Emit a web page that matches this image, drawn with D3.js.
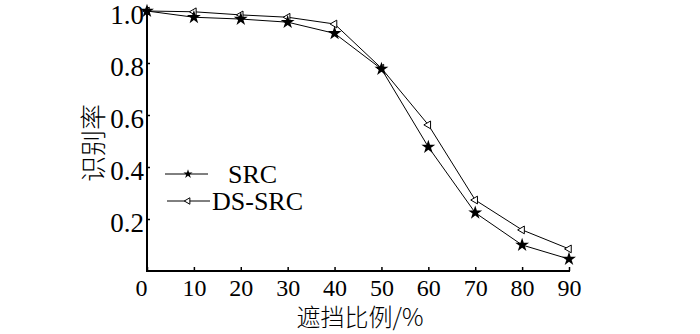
<!DOCTYPE html>
<html>
<head>
<meta charset="utf-8">
<script src="https://cdn.jsdelivr.net/npm/d3@7/dist/d3.min.js"></script>
<style>
  body { margin: 0; background: #fff; }
  svg { display: block; }
</style>
</head>
<body>
<div id="chart"></div>
<script>
// occlusion ratio (%)
const ratios = [0, 10, 20, 30, 40, 50, 60, 70, 80, 90]
const srcRate = [1.0, 0.976, 0.969, 0.957, 0.914, 0.777, 0.477, 0.224, 0.10, 0.046]
const dsSrcRate = [1.0, 0.997, 0.985, 0.976, 0.95, 0.78, 0.562, 0.273, 0.158, 0.085]
const seriesNames = ['SRC', 'DS-SRC']
const yTicks = [0.2, 0.4, 0.6, 0.8, 1.0]
const xTicks = [0, 10, 20, 30, 40, 50, 60, 70, 80, 90]
const xTitle = '遮挡比例/%'
const yTitle = '识别率'

const SERIF = '"Liberation Serif", "Times New Roman", serif'
const CJK = '"Noto Sans CJK SC", sans-serif'
const width = 700, height = 334

const svg = d3.select('#chart').append('svg')
  .attr('width', width)
  .attr('height', height)

const x = d3.scaleLinear().domain([0, 90]).range([147, 569])
const y = d3.scaleLinear().domain([0, 1]).range([271, 11])

// axes
const xAxis = svg.append('g')
  .attr('transform', `translate(0,${y(0)})`)
  .call(d3.axisBottom(x).tickValues(xTicks).tickSizeInner(-4).tickSizeOuter(0).tickPadding(8))
xAxis.select('.domain').remove()
xAxis.selectAll('line').attr('stroke-width', 1.5)
xAxis.selectAll('text')
  .style('font-size', '24px')
  .style('font-family', SERIF)
  .attr('dx', d => d === 0 ? -6 : 0)

const yAxis = svg.append('g')
  .attr('transform', `translate(${x(0)},0)`)
  .call(d3.axisLeft(y).tickValues(yTicks).tickFormat(d3.format('.1f')).tickSizeInner(-3).tickSizeOuter(0).tickPadding(3))
yAxis.select('.domain').remove()
yAxis.selectAll('line').attr('stroke-width', 1.5)
yAxis.selectAll('text')
  .style('font-size', '27px')
  .style('font-family', SERIF)
  .attr('dy', '0.45em')

// axis lines (L shape)
svg.append('path')
  .attr('d', `M${x(0)},${y(1) - 1}V${y(0)}H${x(90) + 1}`)
  .attr('fill', 'none')
  .attr('stroke', '#000')
  .attr('stroke-width', 2)

// titles
svg.append('text')
  .attr('x', 360)
  .attr('y', 326)
  .attr('text-anchor', 'middle')
  .style('font-size', '24px')
  .style('font-family', CJK)
  .style('font-weight', 300)
  .text(xTitle)

svg.append('text')
  .attr('transform', 'translate(103,143) rotate(-90)')
  .attr('text-anchor', 'middle')
  .style('font-size', '26px')
  .style('font-family', CJK)
  .style('font-weight', 300)
  .text(yTitle)

const line = d3.line()
  .x((d, i) => x(ratios[i]))
  .y(d => y(d))

const star = d3.symbol().type(d3.symbolStar)
const tri = d3.symbol().type(d3.symbolTriangle)

// DS-SRC
svg.append('path')
  .datum(dsSrcRate)
  .attr('d', line)
  .attr('fill', 'none')
  .attr('stroke', '#000')
  .attr('stroke-width', 1)

svg.append('g').selectAll('path')
  .data(dsSrcRate)
  .join('path')
  .attr('transform', (d, i) => `translate(${x(ratios[i])},${y(d)}) rotate(-90)`)
  .attr('d', tri.size(26))
  .attr('fill', '#fff')
  .attr('stroke', '#000')
  .attr('stroke-width', 1)

// SRC
svg.append('path')
  .datum(srcRate)
  .attr('d', line)
  .attr('fill', 'none')
  .attr('stroke', '#000')
  .attr('stroke-width', 1)

svg.append('g').selectAll('path')
  .data(srcRate)
  .join('path')
  .attr('transform', (d, i) => `translate(${x(ratios[i])},${y(d)})`)
  .attr('d', star.size(60))
  .attr('fill', '#000')

// legend
const legend = svg.append('g')
const legendRows = [
  { name: seriesNames[0], y: 174, tx: 228, x1: 165, x2: 208 },
  { name: seriesNames[1], y: 201, tx: 212, x1: 167, x2: 210 }
]
legend.selectAll('line')
  .data(legendRows)
  .join('line')
  .attr('x1', d => d.x1).attr('x2', d => d.x2)
  .attr('y1', d => d.y).attr('y2', d => d.y)
  .attr('stroke', '#000')
  .attr('stroke-width', 1)

legend.append('path')
  .attr('transform', `translate(188,${legendRows[0].y})`)
  .attr('d', d3.symbol().type(d3.symbolStar).size(26)())
  .attr('fill', '#000')

legend.append('path')
  .attr('transform', `translate(188,${legendRows[1].y}) rotate(-90)`)
  .attr('d', d3.symbol().type(d3.symbolTriangle).size(18)())
  .attr('fill', '#fff')
  .attr('stroke', '#000')
  .attr('stroke-width', 1)

legend.selectAll('text')
  .data(legendRows)
  .join('text')
  .attr('x', d => d.tx)
  .attr('y', d => d.y + 9)
  .style('font-size', '26px')
  .style('font-family', SERIF)
  .text(d => d.name)
</script>
</body>
</html>
